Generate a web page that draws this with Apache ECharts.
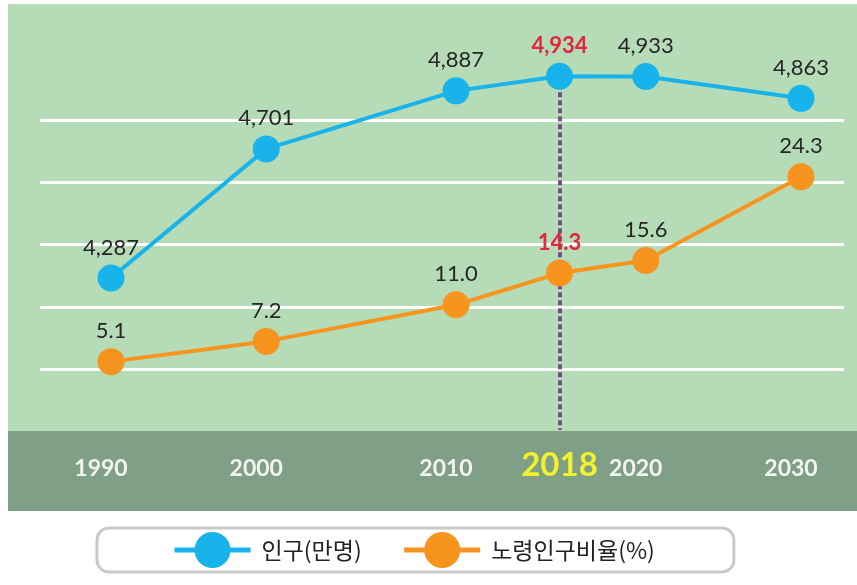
<!DOCTYPE html>
<html>
<head>
<meta charset="utf-8">
<script src="https://cdn.jsdelivr.net/npm/echarts@6/dist/echarts.min.js"></script>
<style>
  html, body { margin: 0; padding: 0; background: #fff; }
  #chart { width: 857px; height: 585px; }
</style>
</head>
<body>
<div id="chart"></div>
<script>
const years = ['1990', '2000', '2010', '2018', '2020', '2030'];
const population = [4287, 4701, 4887, 4934, 4933, 4863];
const agedRatio = [5.1, 7.2, 11.0, 14.3, 15.6, 24.3];
const highlightYear = '2018';
const seriesNames = ['인구(만명)', '노령인구비율(%)'];

// the original spaces years unevenly, so each year sits on a slot of a finer category axis
const slotCount = 41;
const yearSlots = [0, 9, 20, 26, 31, 40];

const blue = '#19b3ec';
const orange = '#f7941d';
const red = '#e1263d';
const numFont = 'Lato, "Noto Sans", sans-serif';
const krFont = '"Noto Sans CJK KR", "Noto Sans", sans-serif';

const categories = new Array(slotCount).fill('');
yearSlots.forEach((s, i) => { categories[s] = years[i]; });

const toSlots = (values)=>{
    const out = new Array(slotCount).fill(null);
    values.forEach((v, i)=>{
        if(years[i] === highlightYear){
            out[yearSlots[i]] = {value: v, label: {color: red, fontWeight: 'bold'}};
        }else{
            out[yearSlots[i]] = v;
        }
    });
    return out;
};

const hlSlot = yearSlots[years.indexOf(highlightYear)];
const popMin = 3800;

let chart = echarts.init(document.getElementById('chart'));
chart.setOption({
    animation: false,
    graphic: [
        {type: 'rect', z: -10, shape: {x: 8, y: 4, width: 849, height: 427}, style: {fill: '#b6dbb7'}},
        {type: 'rect', z: -10, shape: {x: 8, y: 431, width: 849, height: 80}, style: {fill: '#7f9f87'}}
    ],
    grid: [
        {left: 111, right: 56, top: 40, bottom: 155},
        {left: 40, right: 13, top: 120, bottom: 216}
    ],
    xAxis: [
        {
            type: 'category',
            gridIndex: 0,
            data: categories,
            boundaryGap: false,
            axisLine: {show: false},
            axisTick: {show: false},
            axisLabel: {
                interval: 0,
                margin: 25,
                formatter: (v)=>{
                    if(!v) return '';
                    return v === highlightYear ? '{hl|' + v + '}' : '{n|' + v + '}';
                },
                rich: {
                    n: {fontFamily: numFont, fontSize: 23, fontWeight: 'bold', color: '#f2f4f0', lineHeight: 28, padding: [0, 20, 0, 0]},
                    hl: {fontFamily: numFont, fontSize: 33, fontWeight: 'bold', color: '#f1f12c', lineHeight: 20}
                }
            }
        },
        {type: 'value', gridIndex: 1, min: 0, max: 1, show: false}
    ],
    yAxis: [
        {type: 'value', gridIndex: 0, min: popMin, max: 5050, show: false},
        {type: 'value', gridIndex: 0, min: -2, max: 38.5, show: false},
        {
            type: 'value',
            gridIndex: 1,
            min: 0,
            max: 4,
            interval: 1,
            axisLine: {show: false},
            axisTick: {show: false},
            axisLabel: {show: false},
            splitLine: {lineStyle: {color: '#ffffff', width: 3}}
        }
    ],
    legend: {
        data: seriesNames,
        left: 97,
        top: 528,
        padding: [4, 79, 4, 75],
        itemGap: 40,
        itemWidth: 76,
        itemHeight: 45,
        lineStyle: {width: 5},
        backgroundColor: '#ffffff',
        borderColor: '#c9c9c9',
        borderWidth: 3,
        borderRadius: 12,
        textStyle: {fontFamily: krFont, fontSize: 23, color: '#222', padding: [0, 0, 0, 6]}
    },
    series: [
        {
            name: seriesNames[0],
            type: 'line',
            xAxisIndex: 0,
            yAxisIndex: 0,
            z: 6,
            data: toSlots(population),
            connectNulls: true,
            showAllSymbol: true,
            symbol: 'circle',
            symbolSize: 27,
            itemStyle: {color: blue},
            lineStyle: {color: blue, width: 4},
            label: {
                show: true,
                position: 'top',
                distance: 6,
                fontFamily: numFont,
                fontSize: 22,
                color: '#262626',
                formatter: (p)=>p.value.toLocaleString('en-US')
            },
            markLine: {
                silent: true,
                symbol: ['none', 'none'],
                label: {show: false},
                lineStyle: {color: '#7a4b8e', type: [5, 3], width: 4},
                data: [[
                    {coord: [hlSlot, population[years.indexOf(highlightYear)]]},
                    {coord: [hlSlot, popMin]}
                ]]
            }
        },
        {
            name: seriesNames[1],
            type: 'line',
            xAxisIndex: 0,
            yAxisIndex: 1,
            z: 7,
            data: toSlots(agedRatio),
            connectNulls: true,
            showAllSymbol: true,
            symbol: 'circle',
            symbolSize: 27,
            itemStyle: {color: orange},
            lineStyle: {color: orange, width: 4},
            label: {
                show: true,
                position: 'top',
                distance: 6,
                fontFamily: numFont,
                fontSize: 22,
                color: '#262626',
                formatter: (p)=>p.value.toFixed(1)
            }
        }
    ]
});
</script>
</body>
</html>
